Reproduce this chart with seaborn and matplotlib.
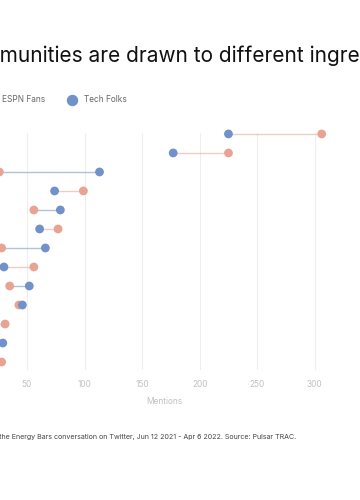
import matplotlib
matplotlib.use("Agg")
import matplotlib.pyplot as plt
import pandas as pd
import seaborn as sns

# ingredients, top to bottom (their labels fall left of the visible crop)
ingredients = ["Protein", "Sugar", "Peanut Butter", "Chocolate", "Oats", "Caffeine",
               "Nuts", "Dates", "Honey", "Almonds", "Coconut", "Collagen", "Fibre"]
espn_fans = [306, 225, 26, 99, 56, 77, 28, 56, 35, 43, 31, 15, 28]
tech_folks = [225, 177, 113, 74, 79, 61, 66, 30, 52, 46, 12, 29, 10]
series = ["ESPN Fans", "Tech Folks"]
palette = {"ESPN Fans": "#E9A392", "Tech Folks": "#7191C9"}

title = "Different communities are drawn to different ingredients"
title_cut = "Different com"
note = ("Mentions by community in the Energy Bars conversation on Twitter, "
        "Jun 12 2021 - Apr 6 2022. Source: Pulsar TRAC.")
note_cut = "Mentions by community in t"

df = pd.DataFrame({"ingredient": ingredients * 2,
                   "mentions": espn_fans + tech_folks,
                   "group": [series[0]] * len(ingredients) + [series[1]] * len(ingredients)})

sns.set_theme(style="white")
plt.rcParams["font.family"] = ["Inter", "DejaVu Sans"]

fig = plt.figure(figsize=(3.6, 5), dpi=100)
ax = fig.add_axes([-0.085, 0.26, 1.081, 0.474])

# connecting lines take the colour of the larger value
for i, (e, t) in enumerate(zip(espn_fans, tech_folks)):
    c = palette["ESPN Fans"] if e >= t else palette["Tech Folks"]
    ax.hlines(i, min(e, t), max(e, t), color=c, lw=1, alpha=0.55, zorder=1, clip_on=False)

sns.scatterplot(data=df, x="mentions", y="ingredient", hue="group", palette=palette,
                s=40, edgecolor="none", ax=ax, zorder=3, legend=True, clip_on=False)

ax.set_xlim(0, 338)
ax.set_ylim(12.42, -0.05)
ax.set_xticks(range(50, 350, 50))
ax.grid(axis="x", color="#EEEEEE", lw=0.8)
ax.set_axisbelow(True)
for s in ax.spines.values():
    s.set_visible(False)
ax.tick_params(axis="x", colors="#C0C0C0", labelsize=6, length=0, pad=7)
ax.tick_params(axis="y", labelleft=False, length=0)
ax.set_xlabel("Mentions", fontsize=6, color="#C0C0C0", labelpad=6)
ax.set_ylabel("")

handles, labels = ax.get_legend_handles_labels()
ax.get_legend().remove()
fig.legend(handles, labels, loc="center left", bbox_to_anchor=(-0.07, 0.80),
           ncol=2, frameon=False, fontsize=6, labelcolor="#666666",
           markerscale=1.3, handletextpad=0.4, columnspacing=2.2)

# place long texts so the crop falls where it does in the reference
fig.canvas.draw()
r = fig.canvas.get_renderer()
tmp = fig.text(0, 0, title_cut, fontsize=15)
w = tmp.get_window_extent(r).width
tmp.remove()
fig.text(-w / 360, 0.888, title, fontsize=15, color="#111111", va="center")
tmp = fig.text(0, 0, note_cut, fontsize=5.1)
w2 = tmp.get_window_extent(r).width
tmp.remove()
fig.text(-w2 / 360 + 0.004, 0.127, note, fontsize=5.1, color="#444444", va="center")

fig.savefig("out.png", dpi=100)
